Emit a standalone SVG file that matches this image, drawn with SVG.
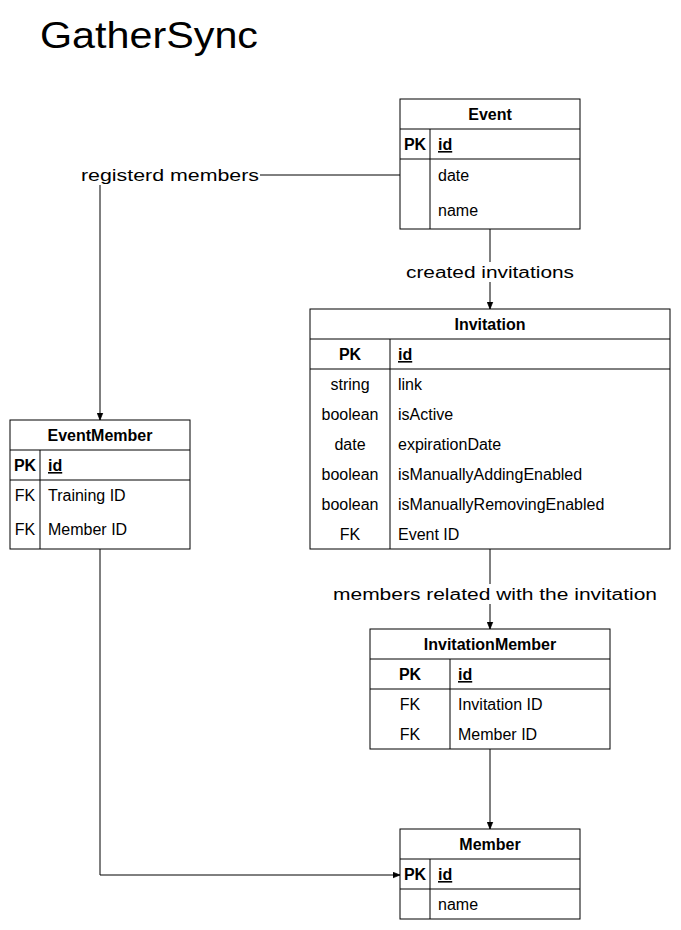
<svg xmlns="http://www.w3.org/2000/svg" width="681" height="930" viewBox="0 0 681 930">
<defs>
<style>
text{font-family:"Liberation Sans","Open Sans",sans-serif;font-size:16px;fill:#000}
.t{font-weight:bold;text-anchor:middle}
.k{font-weight:bold;text-anchor:middle}
.c{text-anchor:middle}
.pk{font-weight:bold;text-decoration:underline}
.box{fill:#fff;stroke:#000;stroke-width:1}
.ln{stroke:#000;stroke-width:1;fill:none}
.lbl{text-anchor:middle}
</style>
<marker id="arr" viewBox="0 0 10 10" refX="10" refY="5" markerWidth="7" markerHeight="7" orient="auto" markerUnits="userSpaceOnUse">
<path d="M0,1 L10,5 L0,9 Z" fill="#000" stroke="#000"/>
</marker>
</defs>
<rect width="681" height="930" fill="#fff"/>
<text x="40" y="48" style="font-size:36px" textLength="218" lengthAdjust="spacingAndGlyphs">GatherSync</text>

<g id="connectors">
<path class="ln" d="M400,175 L100,175 L100,420" marker-end="url(#arr)"/>
<rect x="80" y="165" width="180" height="20" fill="#fff"/>
<text class="lbl" x="170" y="181" textLength="178" lengthAdjust="spacingAndGlyphs">registerd members</text>
<path class="ln" d="M490,229 L490,309" marker-end="url(#arr)"/>
<rect x="405" y="262" width="170" height="20" fill="#fff"/>
<text class="lbl" x="490" y="278" textLength="168" lengthAdjust="spacingAndGlyphs">created invitations</text>
<path class="ln" d="M490,549 L490,629" marker-end="url(#arr)"/>
<rect x="332" y="584" width="326" height="20" fill="#fff"/>
<text class="lbl" x="495" y="600" textLength="324" lengthAdjust="spacingAndGlyphs">members related with the invitation</text>
<path class="ln" d="M490,749 L490,829" marker-end="url(#arr)"/>
<path class="ln" d="M100,549 L100,875 L400,875" marker-end="url(#arr)"/>
</g>

<g id="event">
<rect class="box" x="400" y="99" width="180" height="130"/>
<path class="ln" d="M400,129 H580 M400,159 H580 M430,129 V229"/>
<text class="t" x="490" y="120">Event</text>
<text class="k" x="415" y="150">PK</text>
<text class="pk" x="438" y="150">id</text>
<text x="438" y="181">date</text>
<text x="438" y="216">name</text>
</g>

<g id="invitation">
<rect class="box" x="310" y="309" width="360" height="240"/>
<path class="ln" d="M310,339 H670 M310,369 H670 M390,339 V549"/>
<text class="t" x="490" y="330">Invitation</text>
<text class="k" x="350" y="360">PK</text>
<text class="pk" x="398" y="360">id</text>
<text class="c" x="350" y="390">string</text>
<text x="398" y="390">link</text>
<text class="c" x="350" y="420">boolean</text>
<text x="398" y="420">isActive</text>
<text class="c" x="350" y="450">date</text>
<text x="398" y="450">expirationDate</text>
<text class="c" x="350" y="480">boolean</text>
<text x="398" y="480">isManuallyAddingEnabled</text>
<text class="c" x="350" y="510">boolean</text>
<text x="398" y="510">isManuallyRemovingEnabled</text>
<text class="c" x="350" y="540">FK</text>
<text x="398" y="540">Event ID</text>
</g>

<g id="eventmember">
<rect class="box" x="10" y="420" width="180" height="129"/>
<path class="ln" d="M10,450 H190 M10,480 H190 M40,450 V549"/>
<text class="t" x="100" y="441">EventMember</text>
<text class="k" x="25" y="471">PK</text>
<text class="pk" x="48" y="471">id</text>
<text class="c" x="25" y="501">FK</text>
<text x="48" y="501">Training ID</text>
<text class="c" x="25" y="535">FK</text>
<text x="48" y="535">Member ID</text>
</g>

<g id="invitationmember">
<rect class="box" x="370" y="629" width="240" height="120"/>
<path class="ln" d="M370,659 H610 M370,689 H610 M450,659 V749"/>
<text class="t" x="490" y="650">InvitationMember</text>
<text class="k" x="410" y="680">PK</text>
<text class="pk" x="458" y="680">id</text>
<text class="c" x="410" y="710">FK</text>
<text x="458" y="710">Invitation ID</text>
<text class="c" x="410" y="740">FK</text>
<text x="458" y="740">Member ID</text>
</g>

<g id="member">
<rect class="box" x="400" y="829" width="180" height="90"/>
<path class="ln" d="M400,859 H580 M400,889 H580 M430,859 V919"/>
<text class="t" x="490" y="850">Member</text>
<text class="k" x="415" y="880">PK</text>
<text class="pk" x="438" y="880">id</text>
<text x="438" y="910">name</text>
</g>
</svg>
